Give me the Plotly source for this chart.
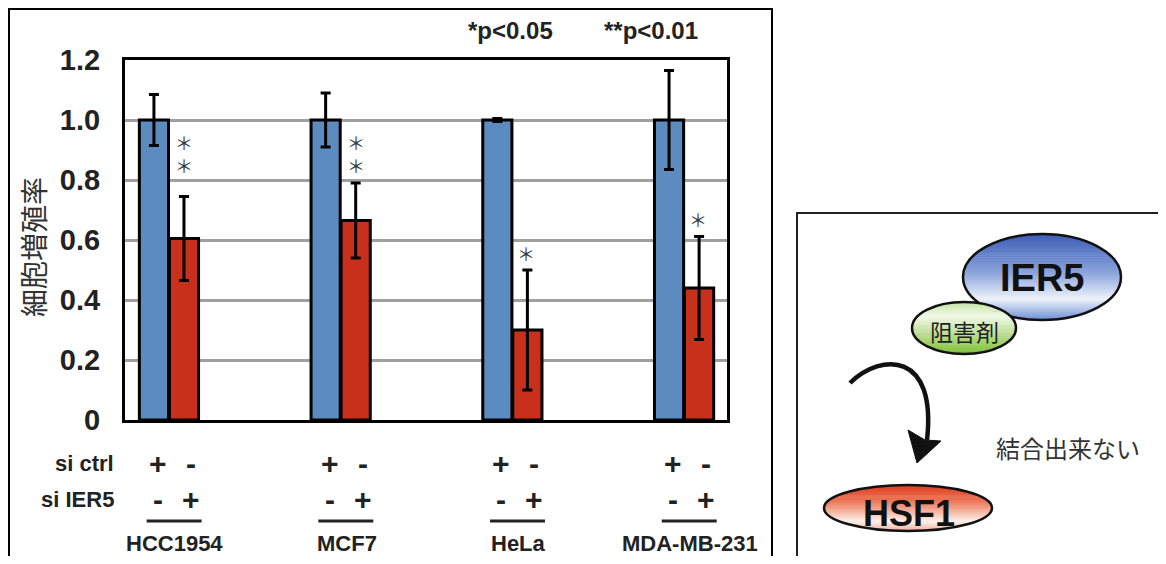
import plotly.graph_objects as go

W, H = 1166, 564
OFF = 8  # page body margin
FW, FH = W - 2 * OFF, H - 2 * OFF

# ---------------- data ----------------
cell_lines = ["HCC1954", "MCF7", "HeLa", "MDA-MB-231"]
ctrl_values = [1.0, 1.0, 1.0, 1.0]
ctrl_errors = [0.085, 0.09, 0.005, 0.165]
ier5_values = [0.605, 0.665, 0.30, 0.44]
ier5_errors = [0.14, 0.125, 0.20, 0.172]
signif = ["**", "**", "*", "*"]
y_ticks = [0, 0.2, 0.4, 0.6, 0.8, 1.0, 1.2]
y_ticktext = ["0", "0.2", "0.4", "0.6", "0.8", "1.0", "1.2"]
row_labels = ["si ctrl", "si IER5"]
ctrl_signs = ["+", "-"]
ier5_signs = ["-", "+"]

BLUE = "#5b8bbf"
RED = "#c8301c"
LAT = "Liberation Sans"
CJK = "Noto Sans CJK JP"


def X(px):
    return (px - OFF) / FW


def Y(py):
    return 1 - (py - OFF) / FH


def text(t, x, y, size, family=LAT, color="#222", bold=False, xref="paper", yref="paper",
         xanchor="center", yanchor="middle", **kw):
    return dict(text=t, x=x, y=y, xref=xref, yref=yref, xanchor=xanchor, yanchor=yanchor,
                showarrow=False,
                font=dict(family=family, size=size, color=color, weight="bold" if bold else "normal"),
                **kw)


fig = go.Figure()
fig.add_trace(go.Bar(
    x=cell_lines, y=ctrl_values, name="si ctrl",
    marker=dict(color=BLUE, line=dict(color="black", width=3)),
    error_y=dict(type="data", array=ctrl_errors, color="black", thickness=3, width=5),
))
fig.add_trace(go.Bar(
    x=cell_lines, y=ier5_values, name="si IER5",
    marker=dict(color=RED, line=dict(color="black", width=3)),
    error_y=dict(type="data", array=ier5_errors, color="black", thickness=3, width=5),
))

fig.update_layout(
    width=FW, height=FH, autosize=False,
    margin=dict(l=0, r=0, t=0, b=0, pad=0, autoexpand=False),
    paper_bgcolor="white", plot_bgcolor="white",
    showlegend=False,
    barmode="group", bargap=0.65, bargroupgap=0.03,
    xaxis=dict(domain=[X(125), X(727)], range=[-0.256, 3.25], showticklabels=False,
               showline=True, linecolor="black", linewidth=3, mirror=True, automargin=False,
               showgrid=False, ticks="", fixedrange=True),
    yaxis=dict(domain=[Y(420), Y(60)], range=[0, 1.2], tickvals=y_ticks, ticktext=y_ticktext,
               showline=True, linecolor="black", linewidth=3, mirror=True, automargin=False,
               showgrid=True, gridcolor="#a0a0a0", gridwidth=3, zeroline=False,
               ticks="", ticklabelstandoff=16,
               tickfont=dict(family=LAT, size=29, color="#222", weight="bold"), fixedrange=True),
)

ann = []
ann.append(text("細胞増殖率", X(33), Y(247), 28, family=CJK, color="#333", textangle=-90))
ann.append(text("*p<0.05", X(510), Y(31), 24, bold=True))
ann.append(text("**p<0.01", X(651), Y(31), 24, bold=True))
for lbl, py in zip(row_labels, [463, 499]):
    ann.append(text(lbl, X(116), Y(py), 22, bold=True, xanchor="right"))

shapes = []
for i, name in enumerate(cell_lines):
    ann.append(text(ctrl_signs[0], i - 0.064, Y(463), 30, bold=True, xref="x"))
    ann.append(text(ctrl_signs[1], i + 0.128, Y(463), 30, bold=True, xref="x"))
    ann.append(text(ier5_signs[0], i - 0.064, Y(499), 30, bold=True, xref="x"))
    ann.append(text(ier5_signs[1], i + 0.128, Y(499), 30, bold=True, xref="x"))
    shapes.append(dict(type="line", xref="x", yref="paper", x0=i - 0.13, x1=i + 0.19,
                       y0=Y(521), y1=Y(521), line=dict(color="#222", width=3)))
    ann.append(text(name, i + 0.035, Y(543), 22, bold=True, xref="x"))
    # significance stars (fullwidth asterisks, stacked for p<0.01)
    stars = signif[i]
    if len(stars) == 1:
        ann.append(text("＊", i + 0.08, ier5_values[i] + ier5_errors[i], 18, family=CJK,
                        color="#3a3a3a", xref="x", yref="y", yanchor="bottom", yshift=2))
    else:
        ann.append(text("<br>".join("＊" for _ in stars), i + 0.09, ctrl_values[i] - 0.11, 18,
                        family=CJK, color="#3a3a3a", xref="x", yref="y"))

# outer boxes
shapes.append(dict(type="rect", xref="paper", yref="paper", x0=X(9), x1=X(772), y0=Y(580), y1=Y(9),
                   line=dict(color="black", width=2), layer="below"))
shapes.append(dict(type="rect", xref="paper", yref="paper", x0=X(797), x1=X(1180), y0=Y(580), y1=Y(213),
                   line=dict(color="#222", width=2)))


def hex2rgb(h):
    h = h.lstrip("#")
    return tuple(int(h[j:j + 2], 16) for j in (0, 2, 4))


def color_at(stops, t):
    for (t0, c0), (t1, c1) in zip(stops[:-1], stops[1:]):
        if t0 <= t <= t1:
            f = 0 if t1 == t0 else (t - t0) / (t1 - t0)
            a, b = hex2rgb(c0), hex2rgb(c1)
            return "rgb(%d,%d,%d)" % tuple(round(a[j] + (b[j] - a[j]) * f) for j in range(3))
    return stops[-1][1]


def gradient_ellipse(cx, cy, rx, ry, stops, n=44):
    out = []
    for s in range(n):
        ya = cy - ry + 2 * ry * s / n
        yb = cy - ry + 2 * ry * (s + 1) / n

        def half(yy):
            d = 1 - ((yy - cy) / ry) ** 2
            return rx * max(d, 0) ** 0.5
        ha, hb = half(ya), half(yb)
        col = color_at(stops, (s + 0.5) / n)
        path = "M %f %f L %f %f L %f %f L %f %f Z" % (
            X(cx - ha), Y(ya - 0.3), X(cx + ha), Y(ya - 0.3),
            X(cx + hb), Y(yb + 0.3), X(cx - hb), Y(yb + 0.3))
        out.append(dict(type="path", xref="paper", yref="paper", path=path,
                        fillcolor=col, line=dict(width=0)))
    out.append(dict(type="circle", xref="paper", yref="paper", x0=X(cx - rx), x1=X(cx + rx),
                    y0=Y(cy + ry), y1=Y(cy - ry), line=dict(color="#111", width=2.5)))
    return out


shapes += gradient_ellipse(1042, 277, 79, 43,
                           [(0, "#3c5cb6"), (0.45, "#8aa3db"), (0.76, "#eef2fb"), (1, "#7090d6")])
shapes += gradient_ellipse(964, 328, 52, 26,
                           [(0, "#c4e3a0"), (0.28, "#f1f9e8"), (1, "#80bf36")])
shapes += gradient_ellipse(908, 508, 84, 23,
                           [(0, "#df3a1c"), (0.35, "#ec7555"), (0.8, "#fdf0ea"), (1, "#f2b19e")])

# curved arrow
shapes.append(dict(type="path", xref="paper", yref="paper",
                   path="M %f %f C %f %f, %f %f, %f %f" % (X(850), Y(383), X(882), Y(352),
                                                         X(937), Y(352), X(927), Y(440)),
                   line=dict(color="#111", width=4.5)))
shapes.append(dict(type="path", xref="paper", yref="paper",
                   path="M %f %f L %f %f L %f %f L %f %f Z" % (X(917), Y(463), X(908), Y(430),
                                                             X(925), Y(440), X(941), Y(441)),
                   fillcolor="#111", line=dict(color="#111", width=1)))

ann.append(text("IER5", X(1042), Y(278), 38, bold=True, color="#111"))
ann.append(text("阻害剤", X(964), Y(331), 23, family=CJK))
ann.append(text("HSF1", X(909), Y(513), 36, bold=True, color="#111"))
ann.append(text("結合出来ない", X(1068), Y(447), 24, family=CJK, color="#333"))

fig.update_layout(annotations=ann, shapes=shapes)
fig.write_html("out.html")
